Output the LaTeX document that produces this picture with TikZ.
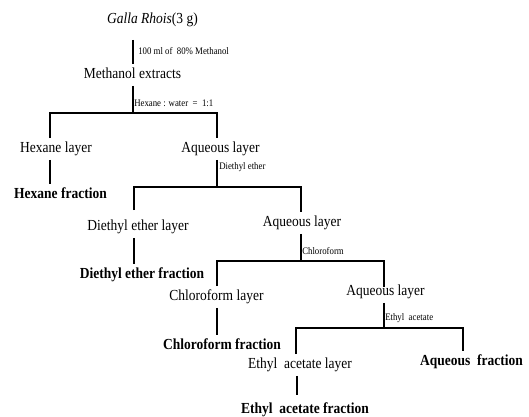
\documentclass[tikz,border=0pt]{standalone}
\usepackage{fontspec}
\setmainfont{Liberation Serif}[FakeStretch=0.88]
\begin{document}
\begin{tikzpicture}[x=0.75pt,y=-0.75pt,
  txt/.style={inner xsep=0pt, inner ysep=3pt, text height=7.5pt, text depth=2.25pt,
              font=\fontsize{11.5}{13}\selectfont},
  frac/.style={txt, font=\fontsize{11.5}{13}\selectfont\bfseries},
  lbl/.style={anchor=west, inner sep=0pt, font=\fontsize{7.5}{9}\selectfont},
  conn/.style={draw=black, line width=1.3pt}]
\useasboundingbox (0,0) rectangle (529,417);

% texts
\node[txt] (galla) at (152.5,20) {\textit{Galla Rhois}(3 g)};
\node[txt] (meth)  at (132.5,75) {Methanol extracts};
\node[txt] (hexl)  at (56,149)   {Hexane layer};
\node[txt] (aql1)  at (220.5,149){Aqueous layer};
\node[frac] (hexf) at (60.5,195) {Hexane fraction};
\node[txt] (dell)  at (138,227)  {Diethyl ether layer};
\node[txt] (aql2)  at (302,223)  {Aqueous layer};
\node[frac] (delf) at (142,275)  {Diethyl ether fraction};
\node[txt] (chl)   at (216.5,297){Chloroform layer};
\node[txt] (aql3)  at (385.5,292){Aqueous layer};
\node[frac] (chf)  at (222,346)  {Chloroform fraction};
\node[txt] (eal)   at (300,365)  {Ethyl\ \ acetate layer};
\node[frac] (aqf)  at (471.5,362){Aqueous\ \ fraction};
\node[frac] (eaf)  at (305,410)  {Ethyl\ \ acetate fraction};

% solvent labels
\node[lbl] (s1) at (138,51)  {100 ml of\ \ 80\% Methanol};
\node[lbl] (s2) at (134,103) {Hexane : water\ \ =\ \ 1:1};
\node[lbl] (s3) at (219,167) {Diethyl ether};
\node[lbl] (s4) at (302,251) {Chloroform};
\node[lbl] (s5) at (385,318) {Ethyl\ \ acetate};

% junctions
\coordinate (m0) at (133,40);
\coordinate (j1) at (133,113);
\coordinate (j1l) at (50,113);
\coordinate (j1r) at (217,113);
\coordinate (h1) at (50,150);
\coordinate (j2) at (217,187);
\coordinate (j2l) at (134,187);
\coordinate (j2r) at (301,187);
\coordinate (j3) at (301,261);
\coordinate (j3l) at (217,261);
\coordinate (j3r) at (384,261);
\coordinate (j4) at (384,328);
\coordinate (j4l) at (296,328);
\coordinate (j4r) at (463,328);
\coordinate (e1) at (297,380);

% connectors
\draw[conn] (m0) -- (meth.north -| m0);
\draw[conn] (meth.south -| j1) -- (j1);
\draw[conn] (hexl.north -| j1l) -- (j1l) -- (j1r) -- (aql1.north -| j1r);
\draw[conn] (hexl.south -| h1) -- (hexf.north -| h1);
\draw[conn] (aql1.south -| j2) -- (j2);
\draw[conn] ([yshift=4.5pt]dell.north -| j2l) -- (j2l) -- (j2r) -- (aql2.north -| j2r);
\draw[conn] (dell.south -| j2l) -- (delf.north -| j2l);
\draw[conn] (aql2.south -| j3) -- (j3);
\draw[conn] (chl.north -| j3l) -- (j3l) -- (j3r) -- ([yshift=-4.5pt]aql3.north -| j3r);
\draw[conn] (chl.south -| j3l) -- (chf.north -| j3l);
\draw[conn] (aql3.south -| j4) -- (j4);
\draw[conn] (eal.north -| j4l) -- (j4l) -- (j4r) -- (aqf.north -| j4r);
\draw[conn] (eal.south -| e1) -- ([yshift=3pt]eaf.north -| e1);
\end{tikzpicture}
\end{document}
